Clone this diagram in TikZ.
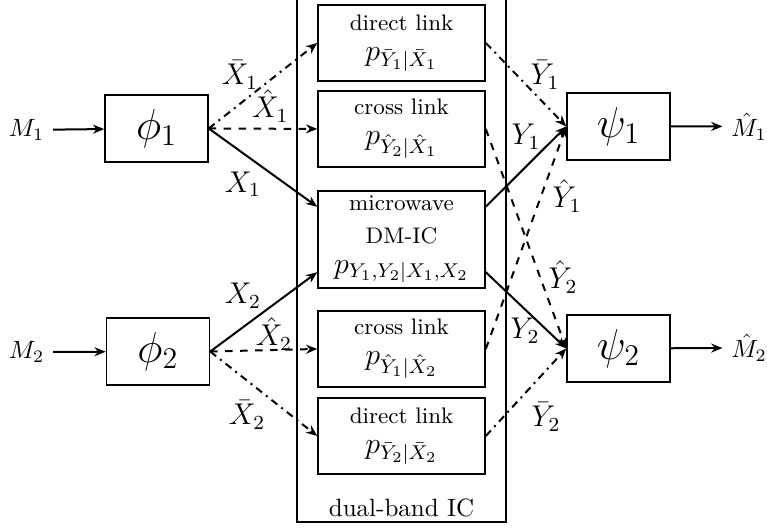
\documentclass[tikz,border=0pt]{standalone}
\usetikzlibrary{arrows.meta}

\begin{document}
\begin{tikzpicture}[
    >={Stealth[length=4.5pt,width=3.6pt]},
    coder/.style={rectangle, draw=black, semithick, minimum width=1.448cm,
                minimum height=0.942cm, font=\LARGE, inner sep=0pt},
    chan/.style={rectangle, draw=black, semithick, minimum width=2.348cm,
                minimum height=1.068cm, align=center, font=\small, inner sep=1pt},
    arrow/.style={->, thick},
    sig/.style={inner sep=0pt, font=\large}
]

\useasboundingbox (0,0) rectangle (10.783,7.437);

% Dual-band IC frame
\draw[semithick] (4.176,0.098) rectangle (7.114,7.6);
\node (band) at (5.645,0.29) {dual-band IC};

% Encoders
\node[coder] (phi1) at (2.200,5.631) {$\phi_1$};
\node[coder] (phi2) at (2.221,2.495) {$\phi_2$};

% Decoders
\node[coder] (psi1) at (8.695,5.659) {$\psi_1$};
\node[coder] (psi2) at (8.695,2.538) {$\psi_2$};

% Messages
\node (m1) at (0.373,5.61) {$M_1$};
\node (m2) at (0.373,2.488) {$M_2$};
\node (mh1) at (10.53,5.66) {$\hat{M}_1$};
\node (mh2) at (10.53,2.545) {$\hat{M}_2$};

% Channels
\node[chan] (dir1) at (5.645,6.833) {direct link\\[1pt] {\large $p_{\bar{Y}_1|\bar{X}_1}$}};
\node[chan] (cr1) at (5.645,5.624) {cross link\\[1pt] {\large $p_{\hat{Y}_2|\hat{X}_1}$}};
\node[chan, minimum height=1.364cm] (mw) at (5.645,4.070)
    {microwave\\[2pt] DM-IC\\[1pt] {\large $p_{Y_1,Y_2|X_1,X_2}$}};
\node[chan] (cr2) at (5.645,2.531) {cross link\\[1pt] {\large $p_{\hat{Y}_1|\hat{X}_2}$}};
\node[chan] (dir2) at (5.645,1.307) {direct link\\[1pt] {\large $p_{\bar{Y}_2|\bar{X}_2}$}};

\coordinate (mwin1) at ([yshift=0.46cm]mw.west);
\coordinate (mwin2) at ([yshift=-0.46cm]mw.west);
\coordinate (mwout1) at ([yshift=0.46cm]mw.east);
\coordinate (mwout2) at ([yshift=-0.46cm]mw.east);

% Inputs and outputs
\draw[arrow] (m1) -- (phi1);
\draw[arrow] (m2) -- (phi2);
\draw[arrow] (psi1) -- (mh1);
\draw[arrow] (psi2) -- (mh2);

% Encoder 1 to channels
\draw[arrow, dash dot] (phi1.east) -- (dir1.west);
\draw[arrow, dashed] (phi1.east) -- (cr1.west);
\draw[arrow] (phi1.east) -- (mwin1);

% Encoder 2 to channels
\draw[arrow] (phi2.east) -- (mwin2);
\draw[arrow, dashed] (phi2.east) -- (cr2.west);
\draw[arrow, dash dot] (phi2.east) -- (dir2.west);

% Channels to decoder 1
\draw[arrow, dash dot] (dir1.east) -- (psi1.west);
\draw[arrow] (mwout1) -- (psi1.west);
\draw[arrow, dashed] (cr2.east) -- (psi1.west);

% Channels to decoder 2
\draw[arrow, dashed] (cr1.east) -- (psi2.west);
\draw[arrow] (mwout2) -- (psi2.west);
\draw[arrow, dash dot] (dir2.east) -- (psi2.west);

% Signal labels
\node[sig] (xb1) at (3.374,6.383) {$\bar{X}_1$};
\node[sig] (xh1) at (3.80,5.947) {$\hat{X}_1$};
\node[sig] (x1) at (3.416,4.850) {$X_1$};
\node[sig] (x2) at (3.416,3.276) {$X_2$};
\node[sig] (xh2) at (3.852,2.742) {$\hat{X}_2$};
\node[sig] (xb2) at (3.473,1.603) {$\bar{X}_2$};
\node[sig] (yb1) at (7.662,6.383) {$\bar{Y}_1$};
\node[sig] (y1) at (7.395,5.511) {$Y_1$};
\node[sig] (yh1) at (7.971,4.682) {$\hat{Y}_1$};
\node[sig] (yh2) at (7.915,3.543) {$\hat{Y}_2$};
\node[sig] (y2) at (7.381,2.784) {$Y_2$};
\node[sig] (yb2) at (7.676,1.575) {$\bar{Y}_2$};

\end{tikzpicture}
\end{document}
